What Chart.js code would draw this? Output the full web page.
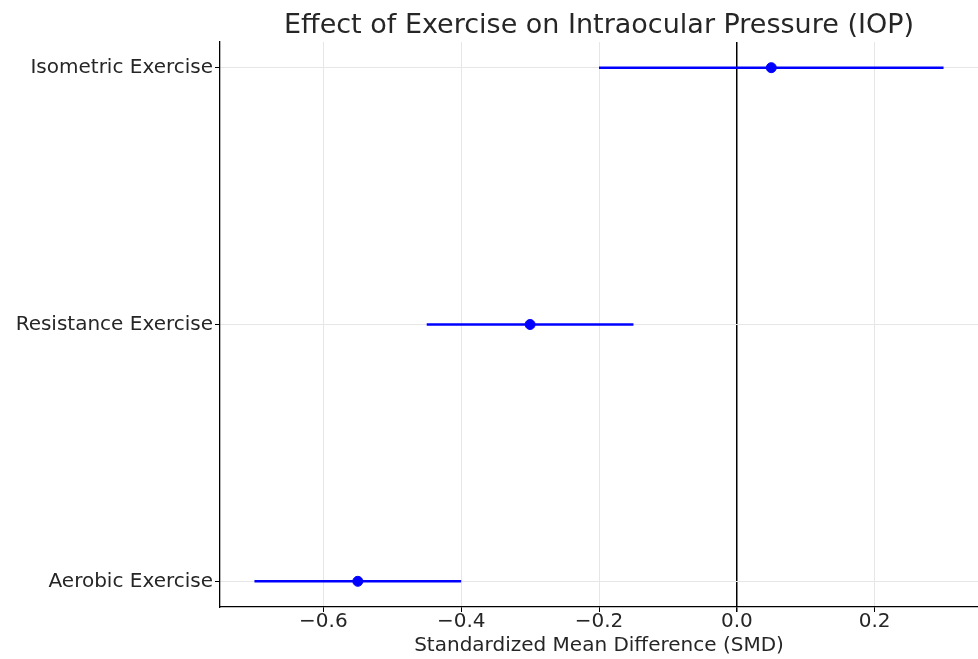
<!DOCTYPE html>
<html>
<head>
<meta charset="utf-8">
<script src="https://cdn.jsdelivr.net/npm/chart.js@4.4.1/dist/chart.umd.min.js"></script>
<style>
  html, body { margin: 0; padding: 0; background: #fff; }
  #wrap { width: 978px; height: 659px; position: relative; }
</style>
</head>
<body>
<div id="wrap"><canvas id="chart"></canvas></div>
<script>
// categories, bottom to top
const categories = ['Aerobic Exercise', 'Resistance Exercise', 'Isometric Exercise'];
// standardized mean difference
const smd = [-0.55, -0.30, 0.05];
// confidence interval bounds
const lower = [-0.70, -0.45, -0.20];
const upper = [-0.40, -0.15, 0.30];
// x tick values
const xTicks = [-0.6, -0.4, -0.2, 0.0, 0.2];

const titleText = 'Effect of Exercise on Intraocular Pressure (IOP)';
const blue = '#0000ff';
const font = 'DejaVu Sans';

/**
 * Error bars
 */
const barSets = categories.map(function (c, i) {
    return {
        type: 'line',
        label: c,
        data: [{ x: lower[i], y: i }, { x: upper[i], y: i }],
        borderColor: blue,
        borderWidth: 2.5,
        pointRadius: 0,
        fill: false
    };
});

/**
 * Points
 */
const pointSet = {
    type: 'scatter',
    label: 'SMD',
    data: smd.map(function (v, i) { return { x: v, y: i }; }),
    backgroundColor: blue,
    borderColor: blue,
    pointRadius: 5,
    pointHoverRadius: 5
};

/**
 * Title centred over the plot area
 */
const plotTitle = {
    id: 'plotTitle',
    afterDraw: function (chart) {
        const ctx = chart.ctx;
        const area = chart.chartArea;
        ctx.save();
        ctx.fillStyle = '#262626';
        ctx.font = '27px "' + font + '"';
        ctx.textAlign = 'center';
        ctx.textBaseline = 'alphabetic';
        ctx.fillText(titleText, (area.left + area.right) / 2, 33);
        ctx.restore();
    }
};

new Chart(document.getElementById('chart'), {
    type: 'scatter',
    data: { datasets: barSets.concat([pointSet]) },
    plugins: [plotTitle],
    options: {
        responsive: true,
        maintainAspectRatio: false,
        animation: false,
        layout: {
            autoPadding: false,
            padding: { left: 0, right: 0, top: 42, bottom: 0 }
        },
        plugins: {
            legend: { display: false },
            tooltip: { enabled: false },
            title: { display: false }
        },
        scales: {
            x: {
                type: 'linear',
                min: -0.75,
                max: 0.35,
                afterBuildTicks: function (scale) {
                    scale.ticks = xTicks.map(function (v) { return { value: v }; });
                },
                afterFit: function (scale) {
                    scale.height = 52;
                    scale.paddingLeft = 0;
                    scale.paddingRight = 0;
                },
                grid: {
                    color: function (ctx) {
                        return ctx.tick && ctx.tick.value === 0 ? '#000' : '#e6e6e6';
                    },
                    lineWidth: function (ctx) {
                        return ctx.tick && ctx.tick.value === 0 ? 1.5 : 1;
                    },
                    tickColor: '#000',
                    tickLength: 5,
                    drawOnChartArea: true
                },
                border: { color: '#000', width: 1.3 },
                ticks: {
                    color: '#262626',
                    padding: -2,
                    font: { family: font, size: 20 },
                    callback: function (v) {
                        return v === 0 ? '0.0' : (v < 0 ? '\u2212' + Math.abs(v).toFixed(1) : v.toFixed(1));
                    }
                },
                title: {
                    display: true,
                    text: 'Standardized Mean Difference (SMD)',
                    color: '#262626',
                    font: { family: font, size: 20 },
                    padding: { top: 0, bottom: 1 }
                }
            },
            y: {
                type: 'linear',
                min: -0.1,
                max: 2.1,
                afterBuildTicks: function (scale) {
                    scale.ticks = categories.map(function (c, i) { return { value: i }; });
                },
                afterFit: function (scale) { scale.width = 220; },
                grid: {
                    color: '#e6e6e6',
                    tickColor: '#000',
                    tickLength: 5
                },
                border: { color: '#000', width: 1.3 },
                ticks: {
                    color: '#262626',
                    padding: 2,
                    font: { family: font, size: 20 },
                    callback: function (v) { return categories[v]; }
                }
            }
        }
    }
});
</script>
</body>
</html>
